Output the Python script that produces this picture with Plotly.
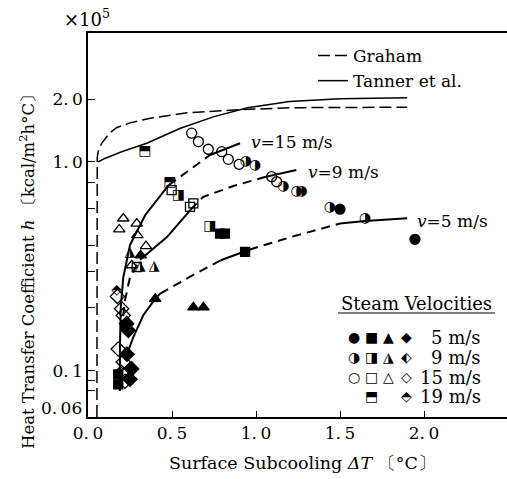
import math
import plotly.graph_objects as go

# ---------------- data ----------------
# reference correlations
graham_dT = [0.053, 0.053, 0.053, 0.055, 0.06, 0.07, 0.085, 0.10, 0.13, 0.17, 0.25, 0.37, 0.59, 0.905, 1.2, 1.9]
graham_h = [0.06, 0.6, 0.95, 1.05, 1.12, 1.18, 1.24, 1.29, 1.38, 1.46, 1.54, 1.62, 1.72, 1.78, 1.82, 1.83]
tanner_dT = [0.06, 0.10, 0.20, 0.35, 0.55, 0.75, 0.95, 1.2, 1.5, 1.9]
tanner_h = [1.0, 1.04, 1.12, 1.23, 1.45, 1.65, 1.82, 1.95, 2.01, 2.03]

# fitted curves for each steam velocity
v15_dT = [0.19, 0.19, 0.195, 0.21, 0.25, 0.34, 0.48, 0.60, 0.726, 0.905]
v15_h = [0.080, 0.13, 0.20, 0.28, 0.40, 0.556, 0.774, 0.915, 1.08, 1.23]
v9_dT = [0.20, 0.22, 0.25, 0.31, 0.47, 0.61, 0.685, 0.865, 1.06, 1.24]
v9_h = [0.155, 0.217, 0.281, 0.34, 0.437, 0.59, 0.68, 0.767, 0.85, 0.915]
v5_dT = [0.22, 0.27, 0.33, 0.40, 0.43, 0.60, 0.79, 0.935, 0.96, 1.22, 1.5, 1.65, 1.9]
v5_h = [0.113, 0.145, 0.185, 0.221, 0.234, 0.28, 0.338, 0.371, 0.38, 0.44, 0.507, 0.522, 0.538]

# measured points, 5 m/s (filled)
c5_dT = [1.50, 1.946]
c5_h = [0.594, 0.426]
s5_dT = [0.786, 0.815, 0.935, 0.18, 0.18]
s5_h = [0.454, 0.454, 0.371, 0.096, 0.086]
t5_dT = [0.40, 0.627, 0.687, 0.314]
t5_h = [0.221, 0.201, 0.201, 0.357]
d5_dT = [0.23, 0.24, 0.232, 0.26, 0.25]
d5_h = [0.168, 0.156, 0.12, 0.102, 0.091]

# 9 m/s (half filled)
c9_dT = [0.94, 0.994, 1.163, 1.242, 1.272, 1.44, 1.649]
c9_h = [1.0, 0.967, 0.76, 0.72, 0.72, 0.604, 0.538]
s9_dT = [0.538, 0.726]
s9_h = [0.694, 0.489]
t9_dT = [0.25, 0.31, 0.393]
t9_h = [0.37, 0.314, 0.314]

# 15 m/s (open)
c15_dT = [0.617, 0.657, 0.716, 0.796, 0.835, 0.899, 1.093, 1.123]
c15_h = [1.374, 1.252, 1.151, 1.121, 1.03, 0.975, 0.85, 0.804]
s15_dT = [0.498, 0.607, 0.627, 0.29]
s15_h = [0.733, 0.61, 0.633, 0.314]
t15_dT = [0.21, 0.186, 0.29, 0.294, 0.345, 0.26]
t15_h = [0.536, 0.475, 0.507, 0.446, 0.395, 0.32]
d15_dT = [0.175, 0.20, 0.21, 0.18, 0.21, 0.20, 0.22]
d15_h = [0.227, 0.198, 0.184, 0.127, 0.11, 0.098, 0.089]

# 19 m/s
s19_dT = [0.339, 0.488]
s19_h = [1.12, 0.795]
d19_dT = [0.171]
d19_h = [0.242]

x_ticks = [0.0, 0.5, 1.0, 1.5, 2.0]
x_ticktext = ["0.\u20090", "0.\u20095", "1.\u20090", "1.\u20095", "2.\u20090"]
y_ticks = [0.06, 0.08, 0.09, 0.1, 0.2, 0.3, 0.4, 0.6, 0.8, 1.0, 2.0]
y_ticktext = ["", "", "", "0.\u20091", "", "", "", "", "", "1.\u20090", "2.\u20090"]

legend_rows = [["●", "■", "▲", "◆"], ["◑", "◨", "◮", "⬖"], ["○", "□", "△", "◇"], ["", "⬒", "", "⬘"]]
legend_labels = ["5 m/s", "9 m/s", "15 m/s", "19 m/s"]

# ---------------- figure ----------------
SERIF = "DejaVu Serif"
SYM = "DejaVu Sans"
fig = go.Figure()

fig.add_trace(go.Scatter(x=graham_dT, y=graham_h, mode="lines", name="Graham",
                         line=dict(color="black", width=1.5, dash="12px,5px")))
fig.add_trace(go.Scatter(x=tanner_dT, y=tanner_h, mode="lines", name="Tanner et al.",
                         line=dict(color="black", width=1.5)))


def add_curve(xs, ys, pieces):
    for (i0, i1, style) in pieces:
        fig.add_trace(go.Scatter(x=xs[i0:i1 + 1], y=ys[i0:i1 + 1], mode="lines", showlegend=False,
                                 line=dict(color="black", width=2,
                                           dash="solid" if style == "s" else "9px,6px")))


add_curve(v15_dT, v15_h, [(0, 6, "s"), (6, 8, "d"), (8, 9, "s")])
add_curve(v9_dT, v9_h, [(0, 3, "d"), (3, 5, "s"), (5, 8, "d"), (8, 9, "s")])
add_curve(v5_dT, v5_h, [(0, 4, "s"), (4, 6, "d"), (6, 8, "s"), (8, 10, "d"), (10, 12, "s")])


def add_markers(xs, ys, symbol, size):
    fig.add_trace(go.Scatter(x=xs, y=ys, mode="markers", showlegend=False,
                             marker=dict(symbol=symbol, size=size, color="black",
                                         line=dict(color="black", width=1.3))))


def add_glyphs(xs, ys, glyph, size=14):
    fig.add_trace(go.Scatter(x=xs, y=ys, mode="text", showlegend=False,
                             text=[glyph] * len(xs), textposition="middle center",
                             textfont=dict(family=SYM, size=size, color="black")))


add_markers(c15_dT, c15_h, "circle-open", 10)
add_markers(s15_dT, s15_h, "square-open", 9)
add_markers(t15_dT, t15_h, "triangle-up-open", 10)
add_markers(d15_dT, d15_h, "diamond-open", 11)
add_markers(c5_dT, c5_h, "circle", 10)
add_markers(s5_dT, s5_h, "square", 9)
add_markers(t5_dT, t5_h, "triangle-up", 10)
add_markers(d5_dT, d5_h, "diamond", 11)
add_glyphs(c9_dT, c9_h, "◑")
add_glyphs(s9_dT, s9_h, "◨")
add_glyphs(t9_dT, t9_h, "◮")
add_glyphs(s19_dT, s19_h, "⬒")
add_glyphs(d19_dT, d19_h, "⬘")

L, R, T, B = 88, 0, 33, 62
W, H = 507, 479
pw, ph = W - L - R, H - T - B


def px(xp):
    return (xp - L) / pw


def py(yp):
    return (H - B - yp) / ph


ann = []
# curve labels
for xv, hv, lab in [(0.96, 1.25, "<i>v</i>=15 m/s"), (1.30, 0.896, "<i>v</i>=9 m/s"),
                    (1.946, 0.521, "<i>v</i>=5 m/s")]:
    ann.append(dict(x=xv, y=math.log10(hv), xref="x", yref="y", text=lab,
                    xanchor="left", yanchor="middle", showarrow=False,
                    font=dict(family=SERIF, size=17, color="black")))
# axis titles and unit
ann.append(dict(x=px(302), y=py(463), xref="paper", yref="paper",
                text="Surface Subcooling <i>ΔT</i> 〔°C〕", showarrow=False,
                xanchor="center", yanchor="middle", font=dict(family=SERIF, size=17.5, color="black")))
ann.append(dict(x=px(27), y=py(268), xref="paper", yref="paper", textangle=-90,
                text="Heat Transfer Coefficient <i>h</i> 〔kcal/m<sup>2</sup>h°C〕", showarrow=False,
                xanchor="center", yanchor="middle", font=dict(family=SERIF, size=16.5, color="black")))
ann.append(dict(x=px(87), y=py(18), xref="paper", yref="paper", text="×10<sup>5</sup>",
                showarrow=False, xanchor="center", yanchor="middle",
                font=dict(family=SERIF, size=18, color="black")))
ann.append(dict(x=px(84), y=py(408), xref="paper", yref="paper", text="0.\u200906",
                showarrow=False, xanchor="right", yanchor="middle",
                font=dict(family=SERIF, size=17, color="black")))
# steam velocity key
ann.append(dict(x=px(416), y=py(303), xref="paper", yref="paper", text="Steam Velocities",
                showarrow=False, xanchor="center", yanchor="middle",
                font=dict(family=SERIF, size=18, color="black")))
col_x = [354, 371, 388, 406]
row_y = [337, 357, 377, 396]
for r, row in enumerate(legend_rows):
    for c, g in enumerate(row):
        if g:
            ann.append(dict(x=px(col_x[c]), y=py(row_y[r]), xref="paper", yref="paper", text=g,
                            showarrow=False, xanchor="center", yanchor="middle",
                            font=dict(family=SYM, size=14, color="black")))
    ann.append(dict(x=px(483), y=py(row_y[r]), xref="paper", yref="paper", text=legend_labels[r],
                    showarrow=False, xanchor="right", yanchor="middle",
                    font=dict(family=SERIF, size=18, color="black")))

shapes = [dict(type="line", xref="paper", yref="paper", x0=px(338), x1=px(495),
               y0=py(313), y1=py(313), line=dict(color="black", width=1.2))]

fig.update_layout(
    width=W, height=H,
    margin=dict(l=L, r=R, t=T, b=B),
    paper_bgcolor="white", plot_bgcolor="white",
    font=dict(family=SERIF, size=16, color="black"),
    annotations=ann, shapes=shapes,
    showlegend=True,
    legend=dict(x=px(313), y=py(38), xanchor="left", yanchor="top",
                bgcolor="rgba(0,0,0,0)", font=dict(family=SERIF, size=17, color="black"),
                tracegroupgap=0, itemwidth=30),
    xaxis=dict(range=[0, 2.494], showline=True, linecolor="black", linewidth=1.5, mirror=True,
               ticks="inside", ticklen=6, tickcolor="black", tickvals=x_ticks, ticktext=x_ticktext,
               showgrid=False, zeroline=False, tickfont=dict(family=SERIF, size=17)),
    yaxis=dict(type="log", range=[math.log10(0.06), math.log10(4.15)], showline=True,
               linecolor="black", linewidth=1.5, ticks="inside", ticklen=7, tickcolor="black",
               tickvals=y_ticks, ticktext=y_ticktext, showgrid=False, zeroline=False,
               tickfont=dict(family=SERIF, size=17)),
)

fig.write_html("out.html")
